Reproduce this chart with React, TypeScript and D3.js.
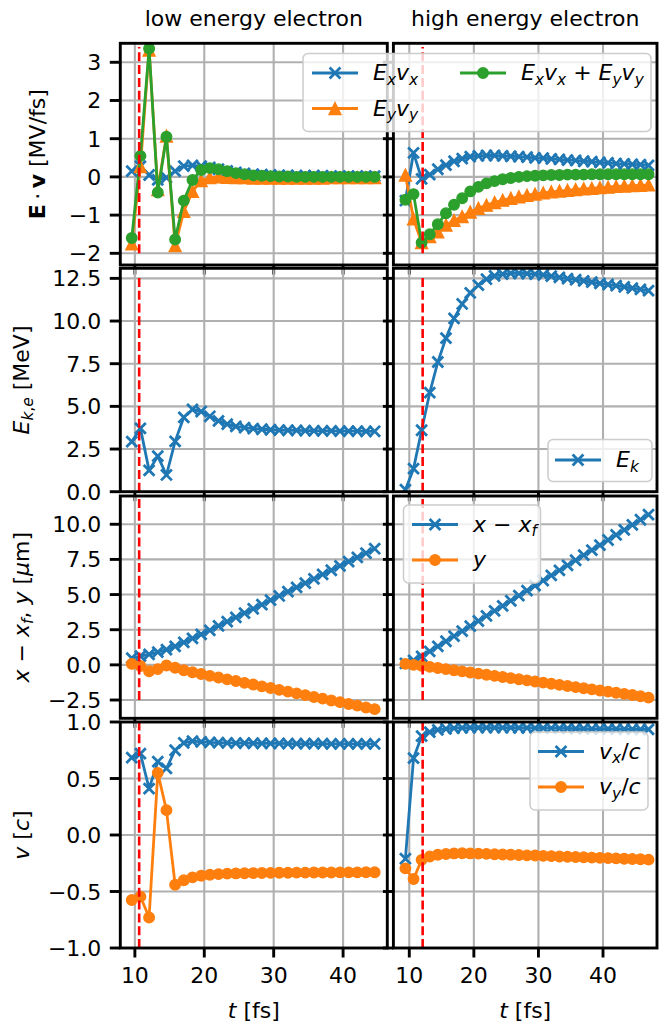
import * as d3 from "d3";

// time samples (fs)
const tLow = [9.55, 10.8, 12.05, 13.3, 14.55, 15.8, 17.05, 18.3, 19.55, 20.8, 22.05, 23.3, 24.55, 25.8, 27.05, 28.3, 29.55, 30.8, 32.05, 33.3, 34.55, 35.8, 37.05, 38.3, 39.55, 40.8, 42.05, 43.3, 44.55];
const tHigh = [9.4, 10.66, 11.91, 13.17, 14.42, 15.68, 16.93, 18.19, 19.44, 20.7, 21.95, 23.21, 24.46, 25.72, 26.97, 28.23, 29.48, 30.74, 31.99, 33.25, 34.5, 35.76, 37.01, 38.27, 39.52, 40.78, 42.03, 43.29, 44.54, 45.8, 47.05];

// red dashed marker time
const tMarkLow = 10.62;
const tMarkHigh = 12.07;

// E.v [MV/fs]
const exvxLow = [0.15, 0.28, 0.05, -0.08, -0.02, 0.15, 0.28, 0.3, 0.28, 0.25, 0.2, 0.16, 0.12, 0.09, 0.07, 0.06, 0.05, 0.04, 0.04, 0.03, 0.03, 0.03, 0.03, 0.02, 0.02, 0.02, 0.02, 0.02, 0.02];
const eyvyLow = [-1.75, 0.27, 3.32, -0.33, 1.07, -1.8, -0.9, -0.38, -0.1, -0.02, 0.0, -0.01, -0.02, -0.02, -0.03, -0.03, -0.03, -0.03, -0.03, -0.03, -0.03, -0.03, -0.03, -0.02, -0.02, -0.02, -0.02, -0.02, -0.02];
const sumLow = [-1.6, 0.55, 3.36, -0.41, 1.05, -1.64, -0.62, -0.08, 0.18, 0.23, 0.2, 0.15, 0.1, 0.07, 0.04, 0.03, 0.02, 0.01, 0.01, 0.0, 0.0, 0.0, 0.0, 0.0, 0.0, 0.0, 0.0, 0.0, 0.0];
const exvxHigh = [-0.62, 0.63, -0.05, 0.06, 0.2, 0.31, 0.41, 0.48, 0.53, 0.55, 0.56, 0.56, 0.55, 0.54, 0.53, 0.52, 0.5, 0.49, 0.47, 0.46, 0.44, 0.43, 0.41, 0.4, 0.38, 0.37, 0.35, 0.34, 0.33, 0.32, 0.3];
const eyvyHigh = [0.05, -1.1, -1.72, -1.56, -1.44, -1.26, -1.14, -1.04, -0.92, -0.82, -0.74, -0.67, -0.61, -0.56, -0.52, -0.48, -0.45, -0.42, -0.39, -0.37, -0.35, -0.33, -0.31, -0.3, -0.28, -0.27, -0.25, -0.24, -0.23, -0.22, -0.21];
const sumHigh = [-0.6, -0.45, -1.72, -1.5, -1.24, -0.95, -0.73, -0.56, -0.38, -0.26, -0.17, -0.11, -0.06, -0.03, 0.0, 0.02, 0.03, 0.04, 0.05, 0.05, 0.06, 0.06, 0.06, 0.07, 0.07, 0.07, 0.07, 0.07, 0.07, 0.07, 0.07];

// kinetic energy [MeV]
const ekLow = [2.93, 3.71, 1.25, 2.08, 0.98, 2.95, 4.36, 4.82, 4.7, 4.42, 4.15, 3.96, 3.83, 3.75, 3.7, 3.66, 3.63, 3.61, 3.6, 3.59, 3.58, 3.57, 3.56, 3.56, 3.55, 3.55, 3.55, 3.54, 3.54];
const ekHigh = [0.12, 1.35, 3.6, 5.8, 7.6, 9.0, 10.15, 11.0, 11.65, 12.1, 12.45, 12.65, 12.75, 12.8, 12.8, 12.78, 12.75, 12.7, 12.63, 12.56, 12.49, 12.42, 12.35, 12.28, 12.21, 12.14, 12.07, 12.0, 11.93, 11.86, 11.78];

// position [um]
const xLow = [0.48, 0.62, 0.75, 0.9, 1.08, 1.32, 1.6, 1.88, 2.17, 2.46, 2.77, 3.07, 3.38, 3.68, 3.99, 4.29, 4.6, 4.9, 5.21, 5.51, 5.82, 6.12, 6.43, 6.73, 7.04, 7.34, 7.65, 7.95, 8.26];
const yLow = [0.07, -0.08, -0.45, -0.3, -0.05, -0.2, -0.38, -0.52, -0.65, -0.78, -0.9, -1.03, -1.15, -1.28, -1.4, -1.53, -1.65, -1.78, -1.9, -2.03, -2.15, -2.28, -2.4, -2.53, -2.65, -2.78, -2.9, -3.03, -3.15];
const xHigh = [0.1, 0.32, 0.6, 0.96, 1.32, 1.68, 2.04, 2.4, 2.76, 3.12, 3.48, 3.84, 4.2, 4.56, 4.92, 5.28, 5.64, 6.0, 6.36, 6.72, 7.08, 7.44, 7.8, 8.16, 8.52, 8.88, 9.24, 9.6, 9.96, 10.32, 10.68];
const yHigh = [0.07, 0.0, -0.06, -0.14, -0.22, -0.3, -0.38, -0.46, -0.54, -0.62, -0.7, -0.78, -0.86, -0.94, -1.02, -1.1, -1.18, -1.26, -1.34, -1.42, -1.5, -1.58, -1.66, -1.74, -1.82, -1.9, -1.98, -2.06, -2.14, -2.23, -2.33];

// velocity [c]
const vxLow = [0.685, 0.72, 0.41, 0.65, 0.59, 0.75, 0.815, 0.83, 0.825, 0.82, 0.818, 0.816, 0.814, 0.813, 0.812, 0.811, 0.81, 0.81, 0.809, 0.809, 0.808, 0.808, 0.808, 0.807, 0.807, 0.807, 0.807, 0.806, 0.806];
const vyLow = [-0.575, -0.545, -0.73, 0.55, 0.22, -0.44, -0.4, -0.375, -0.36, -0.352, -0.346, -0.342, -0.34, -0.338, -0.337, -0.336, -0.335, -0.334, -0.334, -0.333, -0.333, -0.332, -0.332, -0.332, -0.331, -0.331, -0.331, -0.33, -0.33];
const vxHigh = [-0.21, 0.68, 0.875, 0.91, 0.93, 0.94, 0.945, 0.948, 0.95, 0.95, 0.95, 0.95, 0.95, 0.95, 0.949, 0.948, 0.947, 0.946, 0.945, 0.944, 0.943, 0.942, 0.941, 0.94, 0.94, 0.939, 0.938, 0.937, 0.936, 0.935, 0.934];
const vyHigh = [-0.295, -0.39, -0.22, -0.19, -0.175, -0.168, -0.163, -0.162, -0.163, -0.165, -0.167, -0.17, -0.172, -0.175, -0.177, -0.18, -0.182, -0.185, -0.187, -0.19, -0.192, -0.195, -0.197, -0.2, -0.202, -0.205, -0.207, -0.21, -0.212, -0.215, -0.218];

// ticks
const xTicks = [10, 20, 30, 40];
const yTicksPower = [-2, -1, 0, 1, 2, 3];
const yTicksEnergy = [0, 2.5, 5, 7.5, 10, 12.5];
const yTicksPos = [-2.5, 0, 2.5, 5, 7.5, 10];
const yTicksVel = [-1, -0.5, 0, 0.5, 1];

const titles = ["low energy electron", "high energy electron"];

const W = 659;
const H = 1028;
const FS = 22;
const FONT = "'DejaVu Sans', sans-serif";
const BLUE = "#1f77b4";
const ORANGE = "#ff7f0e";
const GREEN = "#2ca02c";
const GRID = "#b0b0b0";
const LW = 2.8;

type Seg = [string, string?];

const lab: Record<string, Seg[]> = {
  exvx: [["E", "i"], ["x", "si"], ["v", "i"], ["x", "si"]],
  eyvy: [["E", "i"], ["y", "si"], ["v", "i"], ["y", "si"]],
  ek: [["E", "i"], ["k", "si"]],
  xxf: [["x", "i"], [" \u2212 "], ["x", "i"], ["f", "si"]],
  y: [["y", "i"]],
  vxc: [["v", "i"], ["x", "si"], ["/"], ["c", "i"]],
  vyc: [["v", "i"], ["y", "si"], ["/"], ["c", "i"]],
};
lab.sum = [...lab.exvx, [" + "], ...lab.eyvy];

const yLabels: Seg[][] = [
  [["E", "b"], ["\u2009\u00b7\u2009"], ["v", "b"], [" [MV/fs]"]],
  [["E", "i"], ["k", "si"], [",", "s"], ["e", "si"], [" [MeV]"]],
  [["x", "i"], [" \u2212 "], ["x", "i"], ["f", "si"], [", "], ["y", "i"], [" ["], ["\u03bc", "i"], ["m]"]],
  [["v", "i"], [" ["], ["c", "i"], ["]"]],
];
const xLabel: Seg[] = [["t", "i"], [" [fs]"]];

const cols = [
  { x0: 120.3, x1: 387.3, domain: [7.9, 46.37], t: tLow, mark: tMarkLow },
  { x0: 393.4, x1: 657, domain: [7.54, 48.36], t: tHigh, mark: tMarkHigh },
];

const rows = [
  { y0: 43.3, y1: 265, domain: [-2.306, 3.497], ticks: yTicksPower, fmt: d3.format("d"), vl: [-2, 3.4], lx: 45 },
  { y0: 268.3, y1: 491.7, domain: [0, 13.09], ticks: yTicksEnergy, fmt: d3.format(".1f"), vl: [0, 12.6], lx: 28.5 },
  { y0: 496, y1: 718.3, domain: [-3.8, 12.01], ticks: yTicksPos, fmt: d3.format(".1f"), vl: [-2.5, 12.5], lx: 28.5 },
  { y0: 722, y1: 948, domain: [-1, 1], ticks: yTicksVel, fmt: d3.format(".1f"), vl: [-1, 1], lx: 28.5 },
];

const series = [
  [
    { lo: exvxLow, hi: exvxHigh, color: BLUE, m: "x" },
    { lo: eyvyLow, hi: eyvyHigh, color: ORANGE, m: "^" },
    { lo: sumLow, hi: sumHigh, color: GREEN, m: "o" },
  ],
  [{ lo: ekLow, hi: ekHigh, color: BLUE, m: "x" }],
  [
    { lo: xLow, hi: xHigh, color: BLUE, m: "x" },
    { lo: yLow, hi: yHigh, color: ORANGE, m: "o" },
  ],
  [
    { lo: vxLow, hi: vxHigh, color: BLUE, m: "x" },
    { lo: vyLow, hi: vyHigh, color: ORANGE, m: "o" },
  ],
];

const legends = [
  {
    x: 303, y: 53.5, w: 348, h: 78,
    items: [
      { x: 312, y: 73, color: BLUE, m: "x", label: lab.exvx },
      { x: 312, y: 108.5, color: ORANGE, m: "^", label: lab.eyvy },
      { x: 460, y: 73, color: GREEN, m: "o", label: lab.sum },
    ],
  },
  { x: 548, y: 439.5, w: 104, h: 42, items: [{ x: 555, y: 460, color: BLUE, m: "x", label: lab.ek }] },
  {
    x: 403.5, y: 505, w: 137, h: 78,
    items: [
      { x: 412, y: 524.5, color: BLUE, m: "x", label: lab.xxf },
      { x: 412, y: 560, color: ORANGE, m: "o", label: lab.y },
    ],
  },
  {
    x: 530, y: 732, w: 118, h: 78,
    items: [
      { x: 538, y: 751.5, color: BLUE, m: "x", label: lab.vxc },
      { x: 538, y: 787, color: ORANGE, m: "o", label: lab.vyc },
    ],
  },
];

function Rich({ segs, fs = FS, ...rest }: { segs: Seg[]; fs?: number; [k: string]: any }) {
  let down = false;
  const kids = segs.map(([t, st = ""], k) => {
    const sub = st.includes("s");
    let dy = 0;
    if (sub && !down) dy = fs * 0.22;
    if (!sub && down) dy = -fs * 0.22;
    down = sub;
    return (
      <tspan
        key={k}
        dy={dy || undefined}
        fontStyle={st.includes("i") ? "italic" : undefined}
        fontWeight={st.includes("b") ? "bold" : undefined}
        fontSize={sub ? fs * 0.7 : undefined}
      >
        {t}
      </tspan>
    );
  });
  return (
    <text fontSize={fs} style={{ whiteSpace: "pre" }} {...rest}>
      {kids}
    </text>
  );
}

function Marker({ m, x, y, color }: { m: string; x: number; y: number; color: string }) {
  if (m === "x") {
    const s = 5.4;
    return (
      <path
        d={`M${x - s},${y - s}L${x + s},${y + s}M${x - s},${y + s}L${x + s},${y - s}`}
        stroke={color}
        strokeWidth={2.8}
      />
    );
  }
  if (m === "^") {
    const s = 6;
    return <path d={`M${x},${y - s}L${x - s},${y + s}L${x + s},${y + s}Z`} fill={color} stroke={color} strokeWidth={1.3} />;
  }
  return <circle cx={x} cy={y} r={5.3} fill={color} stroke={color} strokeWidth={1.3} />;
}

function Panel({ r, c }: { r: number; c: number }) {
  const col = cols[c];
  const row = rows[r];
  const x = d3.scaleLinear().domain(col.domain).range([col.x0, col.x1]);
  const y = d3.scaleLinear().domain(row.domain).range([row.y1, row.y0]);
  const id = `clip-${r}-${c}`;
  const line = d3
    .line<number>()
    .x((_, i) => x(col.t[i]))
    .y((d) => y(d));
  return (
    <g>
      <clipPath id={id}>
        <rect x={col.x0} y={row.y0} width={col.x1 - col.x0} height={row.y1 - row.y0} />
      </clipPath>
      <g clipPath={`url(#${id})`}>
        {xTicks.map((t) => (
          <line key={"gx" + t} x1={x(t)} x2={x(t)} y1={row.y0} y2={row.y1} stroke={GRID} strokeWidth={2.1} />
        ))}
        {row.ticks.map((t) => (
          <line key={"gy" + t} x1={col.x0} x2={col.x1} y1={y(t)} y2={y(t)} stroke={GRID} strokeWidth={2.1} />
        ))}
        {series[r].map((s, k) => {
          const vals = c === 0 ? s.lo : s.hi;
          return (
            <g key={k}>
              <path d={line(vals) ?? ""} fill="none" stroke={s.color} strokeWidth={LW} strokeLinejoin="round" />
              {vals.map((v, i) => (
                <Marker key={i} m={s.m} x={x(col.t[i])} y={y(v)} color={s.color} />
              ))}
            </g>
          );
        })}
        <line
          x1={x(col.mark)}
          x2={x(col.mark)}
          y1={y(row.vl[0])}
          y2={y(row.vl[1])}
          stroke="#ff0000"
          strokeWidth={2.6}
          strokeDasharray="9 3.8"
        />
      </g>
      <rect
        x={col.x0}
        y={row.y0}
        width={col.x1 - col.x0}
        height={row.y1 - row.y0}
        fill="none"
        stroke="#000"
        strokeWidth={2.9}
      />
      {row.ticks.map((t) => (
        <line key={"ty" + t} x1={col.x0 - 10.5} x2={col.x0} y1={y(t)} y2={y(t)} stroke="#000" strokeWidth={2.9} />
      ))}
      {xTicks.map((t) => (
        <line key={"tx" + t} x1={x(t)} x2={x(t)} y1={row.y1} y2={row.y1 + 9.5} stroke="#000" strokeWidth={2.9} />
      ))}
      {c === 0 &&
        row.ticks.map((t) => (
          <text key={"ly" + t} x={col.x0 - 19} y={y(t) + 8} textAnchor="end" fontSize={FS}>
            {row.fmt(t).replace("-", "\u2212")}
          </text>
        ))}
      {r === rows.length - 1 &&
        xTicks.map((t) => (
          <text key={"lx" + t} x={x(t)} y={983} textAnchor="middle" fontSize={FS}>
            {t}
          </text>
        ))}
    </g>
  );
}

function Legend({ lg }: { lg: (typeof legends)[number] }) {
  return (
    <g>
      <rect x={lg.x} y={lg.y} width={lg.w} height={lg.h} rx={5} fill="#fff" fillOpacity={0.8} stroke="#cccccc" strokeWidth={1.5} />
      {lg.items.map((it, k) => (
        <g key={k}>
          <line x1={it.x} x2={it.x + 46} y1={it.y} y2={it.y} stroke={it.color} strokeWidth={LW} />
          <Marker m={it.m} x={it.x + 23} y={it.y} color={it.color} />
          <Rich segs={it.label} x={it.x + 61} y={it.y + 7} />
        </g>
      ))}
    </g>
  );
}

export default function App() {
  return (
    <div style={{ position: "absolute", left: 0, top: 0 }}>
      <svg width={W} height={H} style={{ display: "block", fontFamily: FONT }}>
        <rect width={W} height={H} fill="#fff" />
        {rows.map((_, r) => cols.map((_, c) => <Panel key={`${r}-${c}`} r={r} c={c} />))}
        {cols.map((col, c) => (
          <text key={"t" + c} x={(col.x0 + col.x1) / 2} y={26} textAnchor="middle" fontSize={FS}>
            {titles[c]}
          </text>
        ))}
        {cols.map((col, c) => (
          <Rich key={"xl" + c} segs={xLabel} x={(col.x0 + col.x1) / 2} y={1018} textAnchor="middle" />
        ))}
        {rows.map((row, r) => (
          <Rich
            key={"yl" + r}
            segs={yLabels[r]}
            textAnchor="middle"
            transform={`translate(${row.lx},${(row.y0 + row.y1) / 2}) rotate(-90)`}
          />
        ))}
        {legends.map((lg, k) => (
          <Legend key={k} lg={lg} />
        ))}
      </svg>
    </div>
  );
}
